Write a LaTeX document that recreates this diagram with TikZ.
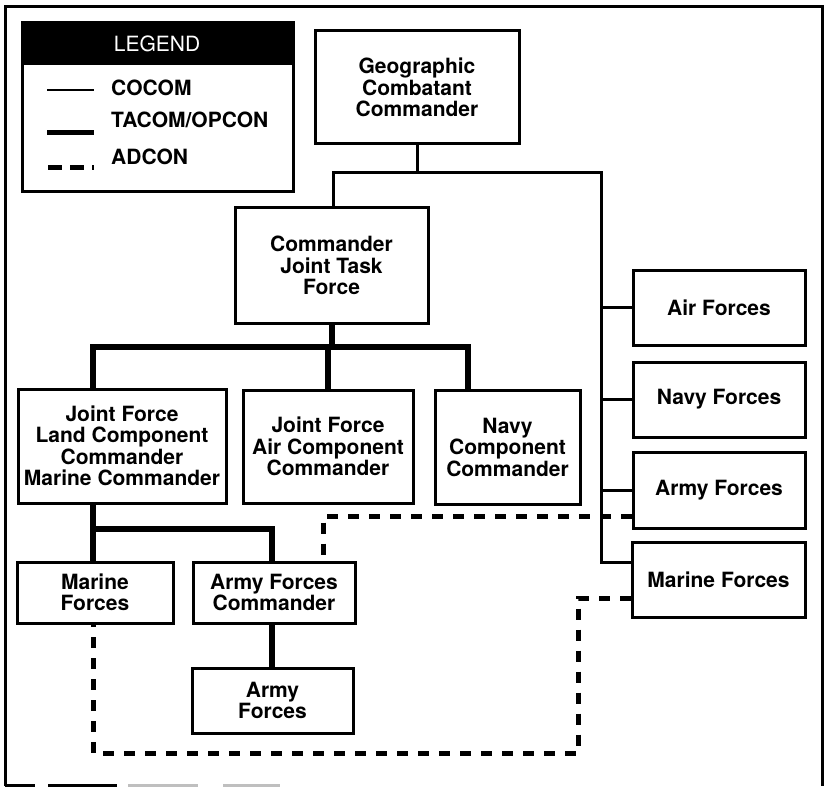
\documentclass[tikz,border=0pt]{standalone}
\usepackage{fontspec}
\setmainfont{TeX Gyre Heros}
\begin{document}
\begin{tikzpicture}[x=1pt,y=-1pt,
  box/.style={draw, line width=3pt, align=center, inner sep=0pt,
    font=\bfseries\fontsize{21}{21.5}\selectfont},
  lgtext/.style={anchor=west, inner sep=0pt, font=\bfseries\fontsize{21}{21.5}\selectfont},
  cocom/.style={line width=3pt},
  tacom/.style={line width=6pt},
  adcon/.style={line width=5pt, dash pattern=on 11pt off 10pt},
  frameline/.style={line width=3pt}]
\useasboundingbox (0,0) rectangle (826,786);

% outer frame
\draw[frameline] (5,786) -- (5,7) -- (822,7) -- (822,786);
\draw[frameline] (5,785) -- (35,785);
\draw[frameline] (48,785) -- (117,785);
\draw[frameline, black!25] (128,785) -- (198,785);
\draw[frameline, black!25] (223,785) -- (280,785);

% legend
\fill[black] (22,23) rectangle (293,65);
\draw[line width=3pt] (22,23) rectangle (293,192);
\node[inner sep=0pt, text=white, font=\fontsize{21}{21.5}\selectfont] (lgh) at (157,44) {LEGEND};
\node[lgtext] (lg1) at (111,88) {COCOM};
\node[lgtext] (lg2) at (111,120) {TACOM/OPCON};
\node[lgtext] (lg3) at (111,157) {ADCON};
\coordinate (l1a) at (47,90);  \coordinate (l1b) at (94,90);
\coordinate (l2a) at (47,133); \coordinate (l2b) at (94,133);
\coordinate (l3a) at (48,168); \coordinate (l3b) at (94,168);
\draw[line width=2.5pt] (l1a) -- (l1b);
\draw[line width=5pt] (l2a) -- (l2b);
\draw[line width=5pt, dash pattern=on 14pt off 8pt] (l3a) -- (l3b);

% boxes
\node[box, minimum width=204pt, minimum height=113pt] (geo) at (417,87.5) {Geographic\\Combatant\\Commander};
\node[box, minimum width=193pt, minimum height=115pt] (jtf) at (331.5,265.5) {Commander\\Joint Task\\Force};
\node[box, minimum width=208pt, minimum height=114pt] (jflcc) at (122,446) {Joint Force\\Land Component\\Commander\\Marine Commander};
\node[box, minimum width=170pt, minimum height=113pt] (jfacc) at (328,446.5) {Joint Force\\Air Component\\Commander};
\node[box, minimum width=145pt, minimum height=114pt] (ncc) at (507.5,447) {Navy\\Component\\Commander};
\node[box, minimum width=172pt, minimum height=75pt] (air) at (719,307.5) {Air Forces};
\node[box, minimum width=172pt, minimum height=75pt] (navy) at (719,399.5) {Navy Forces};
\node[box, minimum width=172pt, minimum height=76pt] (army) at (719,490) {Army Forces};
\node[box, minimum width=173pt, minimum height=75pt] (marine) at (718.5,579.5) {Marine Forces};
\node[box, minimum width=156pt, minimum height=61pt] (mf) at (95,592.5) {Marine\\Forces};
\node[box, minimum width=162pt, minimum height=61pt] (afc) at (274,592.5) {Army Forces\\Commander};
\node[box, minimum width=161pt, minimum height=65pt] (af) at (272.5,700.5) {Army\\Forces};

% COCOM connectors
\coordinate (c1) at (333,173);
\coordinate (c2) at (601,173);
\coordinate (m1) at (601,562);
\draw[cocom] (geo.south) -- (geo.south |- c1);
\draw[cocom, line join=miter] (c1 |- jtf.north) -- (c1) -- (c2) -- (m1) -- (m1 -| marine.west);
\draw[cocom] (c2 |- air.west) -- (air.west);
\draw[cocom] (c2 |- navy.west) -- (navy.west);
\draw[cocom] (c2 |- army.west) -- (army.west);

% TACOM/OPCON connectors
\coordinate (t1) at (93,347);
\coordinate (t2) at (468,347);
\coordinate (t3) at (93,529);
\coordinate (t4) at (272,529);
\draw[tacom] (jtf.south) -- (jtf.south |- t1);
\draw[tacom, line join=miter] (t1 |- jflcc.north) -- (t1) -- (t2) -- (t2 |- ncc.north);
\draw[tacom] (jfacc.north |- t1) -- (jfacc.north);
\draw[tacom] (t3 |- jflcc.south) -- (t3 |- mf.north);
\draw[tacom, line join=miter] (t3) -- (t4) -- (t4 |- afc.north);
\draw[tacom] (t4 |- afc.south) -- (t4 |- af.north);

% ADCON connectors
\coordinate (d1) at (323,516);
\coordinate (d2) at (578,598);
\coordinate (d3) at (578,753);
\coordinate (d4) at (93,753);
\draw[adcon] (army.west |- d1) -- (d1) -- (d1 |- afc.north);
\draw[adcon] (marine.west |- d2) -- (d2) -- (d3) -- (d4) -- (d4 |- mf.south);
\end{tikzpicture}
\end{document}
